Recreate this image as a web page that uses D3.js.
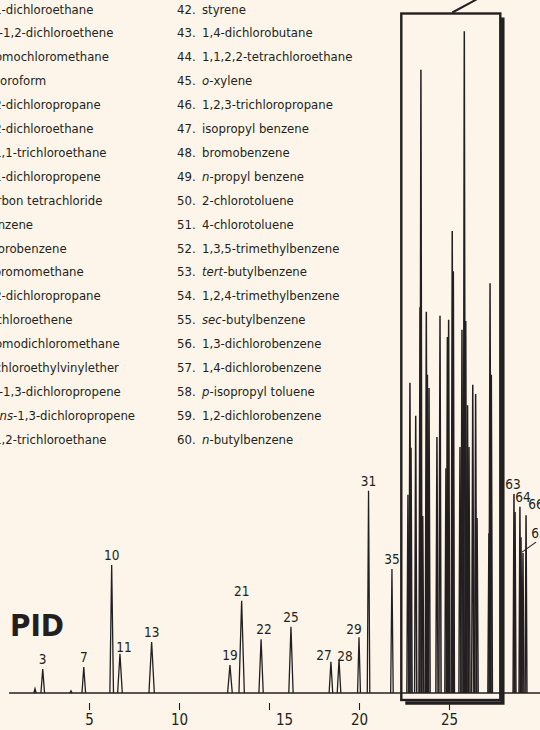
<!DOCTYPE html>
<html>
<head>
<meta charset="utf-8">
<script src="https://cdn.jsdelivr.net/npm/d3@7"></script>
<style>
  html, body { margin: 0; padding: 0; background: #fdf5ea; }
  svg { display: block; }
  text { font-family: "Liberation Sans Narrow", "DejaVu Sans Condensed", "Arial Narrow", sans-serif; fill: #231f20; }
</style>
</head>
<body>
<svg id="chart" width="540" height="730"></svg>
<script>
// ---- Data -------------------------------------------------------------
// Retention time (min), peak height (detector units), half width at base (min)
const peakTimes = [
  2.00, 2.43, 4.00, 4.71, 6.26, 6.72, 8.48, 12.83, 13.48, 14.56, 16.22,
  18.44, 18.89, 20.00, 20.53, 21.83,
  22.72, 22.83, 22.89, 23.15, 23.39, 23.44, 23.54, 23.74, 23.80, 23.89,
  24.33, 24.50, 24.83, 24.91, 24.98, 25.18, 25.24, 25.61, 25.72, 25.85,
  25.93, 26.03, 26.11, 26.32, 26.48, 26.56, 27.22, 27.28, 27.35,
  28.61, 28.67, 28.94, 29.00, 29.11, 29.28
];
const peakHeights = [
  0.6, 3.6, 0.3, 3.9, 19.3, 5.9, 7.7, 4.2, 13.9, 8.1, 10.0,
  4.7, 5.0, 8.4, 30.5, 18.7,
  29.9, 46.8, 37.0, 41.8, 58.2, 94.0, 26.7, 57.5, 48.0, 46.0,
  38.6, 56.9, 33.9, 53.7, 56.3, 69.7, 63.6, 37.1, 54.8, 99.8,
  56.1, 43.4, 37.1, 46.5, 45.1, 26.4, 24.1, 61.8, 48.0,
  30.0, 27.3, 28.1, 23.5, 21.1, 26.8
];
const peakHalfWidths = [
  0.06, 0.10, 0.06, 0.10, 0.10, 0.13, 0.15, 0.13, 0.15, 0.12, 0.12,
  0.10, 0.10, 0.08, 0.07, 0.07,
  0.06, 0.06, 0.06, 0.06, 0.06, 0.06, 0.06, 0.06, 0.06, 0.06,
  0.06, 0.06, 0.06, 0.06, 0.06, 0.06, 0.06, 0.06, 0.06, 0.06,
  0.06, 0.06, 0.06, 0.06, 0.06, 0.06, 0.06, 0.06, 0.06,
  0.05, 0.05, 0.05, 0.05, 0.05, 0.05
];
// Peak identification numbers printed on the trace ("" = not labelled)
const peakLabels = [
  "", "3", "", "7", "10", "11", "13", "19", "21", "22", "25",
  "27", "28", "29", "31", "35",
  "", "", "", "", "", "", "", "", "", "",
  "", "", "", "", "", "", "", "", "", "",
  "", "", "", "", "", "", "", "", "",
  "63", "", "64", "", "65", "66"
];
const tickValues = [5, 10, 15, 20, 25];
const runRange = [0.56, 30.1];        // recorded part of the run (min)
const expandedRange = [22.35, 27.85]; // window shown enlarged elsewhere
const detectorName = "PID";

// Compound key; *...* marks italic prefixes
const compoundNumbersLeft = d3.range(23, 42);
const compoundsLeft = [
  "1,1-dichloroethane", "*cis*-1,2-dichloroethene", "bromochloromethane",
  "chloroform", "2,2-dichloropropane", "1,2-dichloroethane",
  "1,1,1-trichloroethane", "1,1-dichloropropene", "carbon tetrachloride",
  "benzene", "fluorobenzene", "dibromomethane", "1,2-dichloropropane",
  "trichloroethene", "bromodichloromethane", "2-chloroethylvinylether",
  "*cis*-1,3-dichloropropene", "*trans*-1,3-dichloropropene",
  "1,1,2-trichloroethane"
];
const compoundNumbersRight = d3.range(42, 61);
const compoundsRight = [
  "styrene", "1,4-dichlorobutane", "1,1,2,2-tetrachloroethane",
  "*o*-xylene", "1,2,3-trichloropropane", "isopropyl benzene",
  "bromobenzene", "*n*-propyl benzene", "2-chlorotoluene",
  "4-chlorotoluene", "1,3,5-trimethylbenzene", "*tert*-butylbenzene",
  "1,2,4-trimethylbenzene", "*sec*-butylbenzene", "1,3-dichlorobenzene",
  "1,4-dichlorobenzene", "*p*-isopropyl toluene", "1,2-dichlorobenzene",
  "*n*-butylbenzene"
];

// ---- Layout ------------------------------------------------------------
const ink = "#231f20";
const svg = d3.select("#chart");

const x = d3.scaleLinear().domain([0, 30]).range([-1, 539]);
const y = d3.scaleLinear().domain([0, 100]).range([693, 30]);

// ---- Compound key --------------------------------------------------------
const keyTop = 13.5, keyStep = 23.9, keyFont = 13;

function addName(sel, name) {
  const parts = name.split("*");
  parts.forEach((p, i) => {
    if (!p) return;
    sel.append("tspan").attr("font-style", i % 2 ? "italic" : "normal").text(p);
  });
}

function drawKey(numbers, names, numX, nameX) {
  const g = svg.append("g").attr("font-size", keyFont);
  names.forEach((name, i) => {
    const yy = keyTop + i * keyStep;
    g.append("text").attr("x", numX).attr("y", yy).text(numbers[i] + ".");
    addName(g.append("text").attr("x", nameX).attr("y", yy), name);
  });
}
drawKey(compoundNumbersLeft, compoundsLeft, -42, -17);
drawKey(compoundNumbersRight, compoundsRight, 177, 202);

// ---- Expanded-window frame ----------------------------------------------
const bx0 = x(expandedRange[0]), bx1 = x(expandedRange[1]);
const by0 = 13.5, by1 = 700;
// drop shadow on right and bottom
svg.append("path")
  .attr("d", `M${bx1 + 2.5},${by0 + 4} V${by1 + 3} H${bx0 + 4}`)
  .attr("fill", "none").attr("stroke", ink).attr("stroke-width", 3.5);
svg.append("rect")
  .attr("x", bx0).attr("y", by0).attr("width", bx1 - bx0).attr("height", by1 - by0)
  .attr("fill", "none").attr("stroke", ink).attr("stroke-width", 2.4);
// connector to the enlarged view
svg.append("line")
  .attr("x1", bx0 + 51).attr("y1", by0 - 1)
  .attr("x2", bx0 + 76).attr("y2", -1)
  .attr("stroke", ink).attr("stroke-width", 2);

// ---- Chromatogram trace --------------------------------------------------
const line = d3.line().x(d => x(d[0])).y(d => y(d[1]));
const trace = svg.append("g")
  .attr("fill", "none").attr("stroke", ink)
  .attr("stroke-width", 1.3).attr("stroke-linejoin", "miter");

trace.append("path").attr("d", line([[runRange[0], 0], [runRange[1], 0]]));

const peaks = peakTimes.map((t, i) => ({
  t, h: peakHeights[i], w: peakHalfWidths[i], label: peakLabels[i]
}));
trace.selectAll("path.peak").data(peaks).join("path")
  .attr("class", "peak")
  .attr("stroke-width", d => d.w <= 0.06 ? 1.5 : 1.3)
  .attr("d", d => line([[d.t - d.w, 0], [d.t, d.h], [d.t + d.w, 0]]));

// peak numbers
const labelNudge = {
  "11": [4, 3], "22": [3, 0], "27": [-7, 3], "28": [6, 6], "29": [-5, 2],
  "63": [-1, 0], "64": [3, 0], "66": [10, -1], "65": [16, -10]
};
const labelled = peaks.filter(d => d.label);
svg.append("g").attr("font-size", 13.5).attr("text-anchor", "middle")
  .selectAll("text").data(labelled).join("text")
  .attr("x", d => x(d.t) + (labelNudge[d.label] ? labelNudge[d.label][0] : 0))
  .attr("y", d => y(d.h) - 5 + (labelNudge[d.label] ? labelNudge[d.label][1] : 0))
  .text(d => d.label);

// leader for peak 65
const p65 = peaks.find(d => d.label === "65");
svg.append("line")
  .attr("x1", x(p65.t) - 1).attr("y1", y(p65.h) - 1)
  .attr("x2", x(p65.t) + 13).attr("y2", y(p65.h) - 11)
  .attr("stroke", ink).attr("stroke-width", 1.1);

// detector name
svg.append("text")
  .attr("x", 10).attr("y", 636)
  .attr("font-size", 31).attr("font-weight", "bold")
  .text(detectorName);

// ---- Time axis ------------------------------------------------------------
const axis = d3.axisBottom(x).tickValues(tickValues).tickSize(7).tickPadding(4)
  .tickFormat(d3.format("d"));
const ax = svg.append("g").attr("transform", "translate(0,703)").call(axis);
ax.select(".domain").remove();
ax.selectAll(".tick line").attr("stroke", ink).attr("stroke-width", 1.1);
ax.selectAll(".tick text")
  .attr("font-family", null).attr("font-size", 15).attr("fill", ink)
  .attr("dx", d => d === 15 ? 15 : 0);
</script>
</body>
</html>
